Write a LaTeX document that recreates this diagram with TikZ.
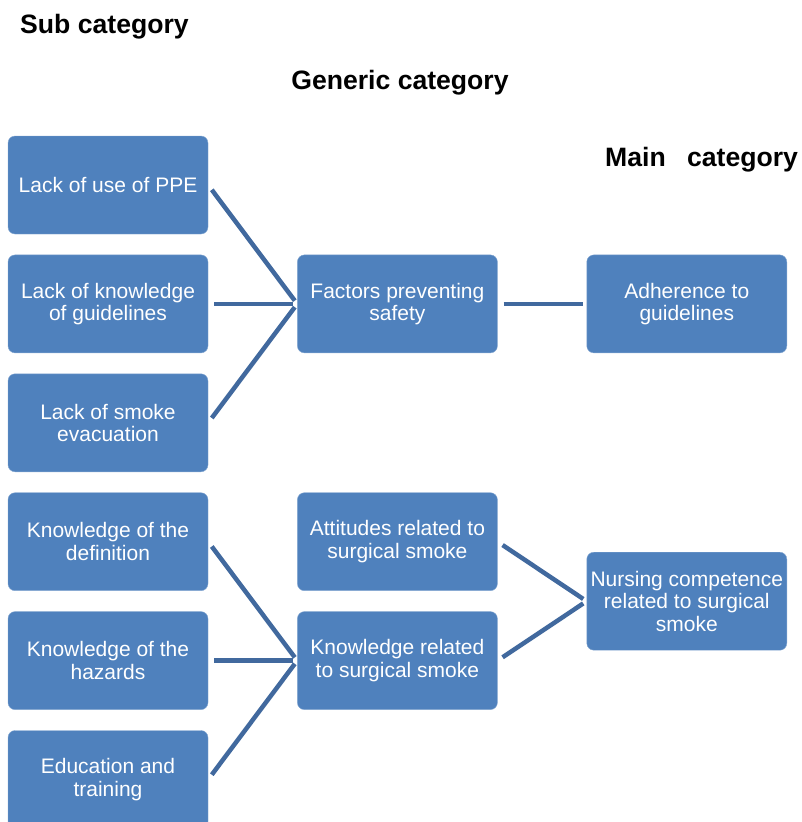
\documentclass[tikz,border=0pt]{standalone}
\usepackage{fontspec}
\setmainfont{Liberation Sans}
\usetikzlibrary{positioning}
\definecolor{boxblue}{HTML}{4F81BD}
\definecolor{linkblue}{HTML}{41699E}

\begin{document}
\begin{tikzpicture}[x=1pt, y=1pt, node distance={20.5pt and 89pt},
  box/.style = {fill=boxblue, draw=boxblue!70!white, rounded corners=7pt, minimum width=200pt, minimum height=98pt, inner sep=0pt, align=center, text=white, font=\fontsize{21}{22.5}\selectfont},
  head/.style = {font=\fontsize{26.6}{30}\selectfont\bfseries, inner sep=0pt},
  link/.style = {draw=linkblue, line width=4.5pt, shorten <=6pt, shorten >=4pt}]
\clip (0,0) rectangle (801,-822);
% headings
\node[head, anchor=west] (hs) at (20,-27) {Sub category};
\node[head] (hg) at (400,-83) {Generic category};
\node[head, anchor=west] (hm) at (605,-160) {Main\hspace{0.8em}category};
% sub categories
\node[box] (s1) at (108,-185) {Lack of use of PPE};
\node[box, below=of s1] (s2) {Lack of knowledge\\of guidelines};
\node[box, below=of s2] (s3) {Lack of smoke\\evacuation};
\node[box, below=of s3] (s4) {Knowledge of the\\definition};
\node[box, below=of s4] (s5) {Knowledge of the\\hazards};
\node[box, below=of s5] (s6) {Education and\\training};
% generic categories
\node[box, right=of s2] (g1) {Factors preventing\\safety};
\node[box, right=of s4] (g2) {Attitudes related to\\surgical smoke};
\node[box, right=of s5] (g3) {Knowledge related\\to surgical smoke};
% main categories
\node[box, right=of g1] (m1) {Adherence to\\guidelines};
\node[box, right=of g2, yshift=-59.5pt] (m2) {Nursing competence\\related to surgical\\smoke};
% links
\draw[link] (s1.east) -- (g1.west);
\draw[link] (s2.east) -- (g1.west);
\draw[link] (s3.east) -- (g1.west);
\draw[link] (g1.east) -- (m1.west);
\draw[link] (s4.east) -- (g3.west);
\draw[link] (s5.east) -- (g3.west);
\draw[link] (s6.east) -- (g3.west);
\draw[link] (g2.east) -- (m2.west);
\draw[link] (g3.east) -- (m2.west);
\end{tikzpicture}
\end{document}
